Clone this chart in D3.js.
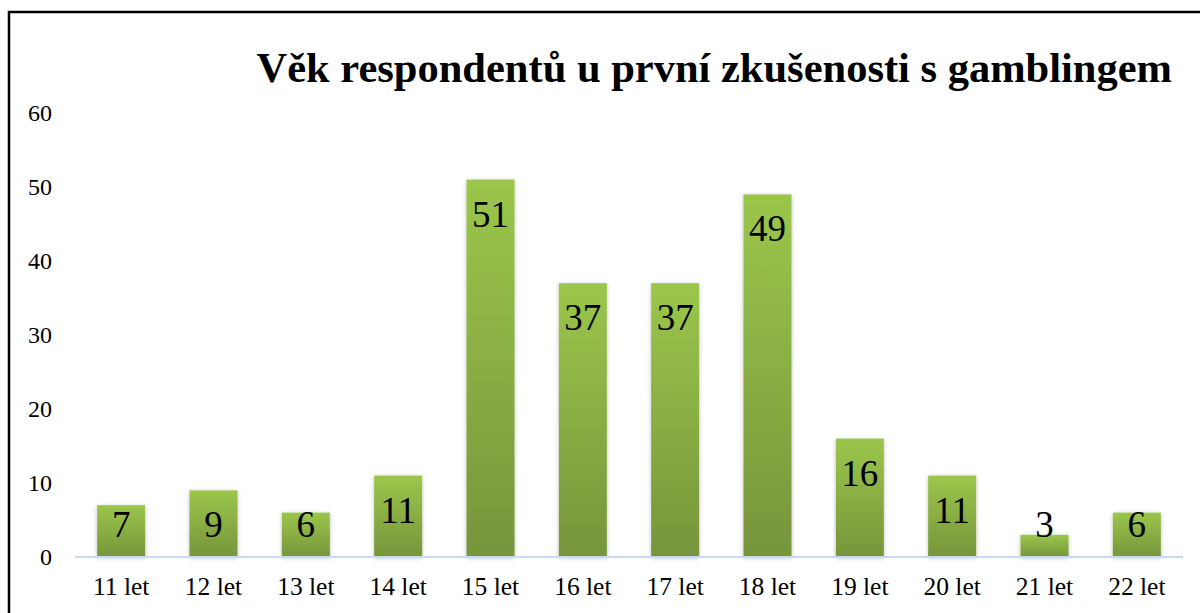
<!DOCTYPE html>
<html>
<head>
<meta charset="utf-8">
<script src="https://cdn.jsdelivr.net/npm/d3@7"></script>
<style>
  body { margin: 0; background: #fff; }
  svg { display: block; font-family: "Liberation Serif", Tinos, "Times New Roman", Times, serif; }
</style>
</head>
<body>
<svg id="chart" width="1200" height="613"></svg>
<script>
// data
const categories = ["11 let", "12 let", "13 let", "14 let", "15 let", "16 let",
                    "17 let", "18 let", "19 let", "20 let", "21 let", "22 let"];
const counts = [7, 9, 6, 11, 51, 37, 37, 49, 16, 11, 3, 6];
const yTicks = [0, 10, 20, 30, 40, 50, 60];
const title = "Věk respondentů u první zkušenosti s gamblingem";

const svg = d3.select("#chart");

// frame
svg.append("rect")
  .attr("x", 9).attr("y", 12)
  .attr("width", 1200).attr("height", 700)
  .attr("fill", "none")
  .attr("stroke", "#000")
  .attr("stroke-width", 2.5);

const defs = svg.append("defs");
const grad = defs.append("linearGradient")
  .attr("id", "barGrad")
  .attr("x1", 0).attr("y1", 0).attr("x2", 0).attr("y2", 1);
grad.append("stop").attr("offset", "0%").attr("stop-color", "#9bc64b");
grad.append("stop").attr("offset", "100%").attr("stop-color", "#77953b");

const shadow = defs.append("filter").attr("id", "shadow")
  .attr("x", "-20%").attr("y", "-20%").attr("width", "140%").attr("height", "140%");
shadow.append("feDropShadow")
  .attr("dx", 0).attr("dy", 1).attr("stdDeviation", 2)
  .attr("flood-color", "#000").attr("flood-opacity", 0.25);

const x = d3.scaleBand()
  .domain(categories)
  .range([75, 1183])
  .paddingInner(0.48)
  .paddingOuter(0.24);

const y = d3.scaleLinear()
  .domain([0, 60])
  .range([557, 113]);

// y tick labels (no axis line)
svg.append("g")
  .selectAll("text")
  .data(yTicks)
  .join("text")
    .attr("x", 52)
    .attr("y", d => y(d))
    .attr("dy", "0.35em")
    .attr("text-anchor", "end")
    .attr("font-size", 24)
    .attr("fill", "#000")
    .text(d => d);

// bars
svg.append("g")
  .selectAll("rect")
  .data(counts)
  .join("rect")
    .attr("x", (d, i) => x(categories[i]))
    .attr("y", d => y(d))
    .attr("width", x.bandwidth())
    .attr("height", d => y(0) - y(d))
    .attr("fill", "url(#barGrad)")
    .attr("filter", "url(#shadow)");

// baseline
svg.append("line")
  .attr("x1", 75).attr("x2", 1183)
  .attr("y1", y(0)).attr("y2", y(0))
  .attr("stroke", "#c9daf0")
  .attr("stroke-width", 2);

// x labels
svg.append("g")
  .selectAll("text")
  .data(categories)
  .join("text")
    .attr("x", d => x(d) + x.bandwidth() / 2)
    .attr("y", 595)
    .attr("text-anchor", "middle")
    .attr("font-size", 25.5)
    .attr("fill", "#000")
    .text(d => d);

// value labels
svg.append("g")
  .selectAll("text")
  .data(counts)
  .join("text")
    .attr("x", (d, i) => x(categories[i]) + x.bandwidth() / 2)
    .attr("y", d => Math.min(y(d) + 47, 537))
    .attr("text-anchor", "middle")
    .attr("font-size", 37)
    .attr("fill", "#000")
    .text(d => d);

// title
svg.append("text")
  .attr("x", 1172)
  .attr("y", 82)
  .attr("text-anchor", "end")
  .attr("font-size", 42.5)
  .attr("font-weight", "bold")
  .attr("fill", "#000")
  .text(title);
</script>
</body>
</html>
